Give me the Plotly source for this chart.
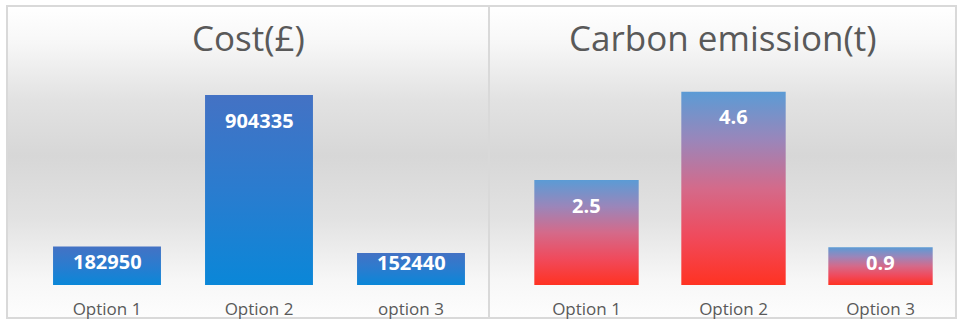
import base64
import plotly.graph_objects as go

# ---- data ----
cost_categories = ["Option 1", "Option 2", "option 3"]
cost_values = [182950, 904335, 152440]
carbon_categories = ["Option 1", "Option 2", "Option 3"]
carbon_values = [2.5, 4.6, 0.9]
cost_title = "Cost(£)"
carbon_title = "Carbon emission(t)"

# ---- layout constants ----
W, H = 961, 326
FONT = "Open Sans, Segoe UI, sans-serif"
GREY_TXT = "#595959"
Y_BOTTOM_PX, Y_TOP_PX = 285, 75
PLOT_H = Y_BOTTOM_PX - Y_TOP_PX
BAR_W = 0.71

panels = [
    dict(cats=cost_categories, vals=cost_values, title=cost_title, rmax=1_000_000,
         xdom=(31, 487), box=(7, 489), xa="x", ya="y",
         colorscale=[[0, "#0a87d8"], [0.5, "#2a7ccf"], [1, "#4472c4"]]),
    dict(cats=carbon_categories, vals=carbon_values, title=carbon_title, rmax=5,
         xdom=(513, 954), box=(489, 956), xa="x2", ya="y2",
         colorscale=[[0, "#ff3222"], [0.25, "#f04a5c"], [0.5, "#d46a8a"],
                     [0.75, "#9a86ba"], [1, "#5b9bd5"]]),
]

bg_svg = """<svg xmlns='http://www.w3.org/2000/svg' width='100' height='100' preserveAspectRatio='none'>
<defs><linearGradient id='g' x1='0' y1='0' x2='0' y2='1'>
<stop offset='0' stop-color='#ffffff'/>
<stop offset='0.12' stop-color='#f7f7f7'/>
<stop offset='0.30' stop-color='#e2e2e2'/>
<stop offset='0.48' stop-color='#d7d7d7'/>
<stop offset='0.68' stop-color='#e2e2e2'/>
<stop offset='0.88' stop-color='#f7f7f7'/>
<stop offset='1' stop-color='#fdfdfd'/>
</linearGradient></defs>
<rect width='100' height='100' fill='url(#g)'/></svg>"""
bg_uri = "data:image/svg+xml;base64," + base64.b64encode(bg_svg.encode()).decode()

fig = go.Figure()
annotations, shapes, images = [], [], []
layout_axes = {}

for k, p in enumerate(panels):
    xa, ya = p["xa"], p["ya"]
    for i, v in enumerate(p["vals"]):
        x0, x1 = i - BAR_W / 2, i + BAR_W / 2
        fig.add_trace(go.Scatter(
            x=[x0, x0, x1, x1, x0], y=[0, v, v, 0, 0],
            mode="lines", fill="toself", line=dict(width=0),
            fillgradient=dict(type="vertical", colorscale=p["colorscale"], start=0, stop=v),
            xaxis=xa, yaxis=ya, showlegend=False, hoverinfo="skip",
        ))
        h_px = v / p["rmax"] * PLOT_H
        off = min(25, h_px - 23)
        annotations.append(dict(
            x=i, y=v, xref=xa, yref=ya, text=f"{v:g}" if isinstance(v, float) else str(v),
            showarrow=False, yshift=-off, yanchor="middle", xanchor="center",
            font=dict(family=FONT, size=20, color="white", weight="bold"),
        ))
    suffix = "" if k == 0 else "2"
    layout_axes["xaxis" + suffix] = dict(
        domain=[p["xdom"][0] / W, p["xdom"][1] / W], range=[-0.5, 2.5],
        tickvals=[0, 1, 2], ticktext=p["cats"], showgrid=False, zeroline=False,
        showline=False, ticks="", ticklabelstandoff=12,
        tickfont=dict(family=FONT, size=17, color=GREY_TXT), fixedrange=True,
        anchor=ya,
    )
    layout_axes["yaxis" + suffix] = dict(
        domain=[1 - Y_BOTTOM_PX / H, 1 - Y_TOP_PX / H], range=[0, p["rmax"]],
        visible=False, fixedrange=True, anchor=xa,
    )
    bx0, bx1 = p["box"]
    images.append(dict(
        source=bg_uri, xref="paper", yref="paper", x=bx0 / W, y=1 - 6 / H,
        sizex=(bx1 - bx0) / W, sizey=312 / H, xanchor="left", yanchor="top",
        sizing="stretch", layer="below",
    ))
    annotations.append(dict(
        x=(bx0 + bx1) / 2 / W, y=1 - 37 / H, xanchor="center",
        xref="paper", yref="paper", text=p["title"], showarrow=False,
        yanchor="middle", font=dict(family=FONT, size=35, color=GREY_TXT),
    ))

for p in panels:
    bx0, bx1 = p["box"]
    shapes.append(dict(type="rect", xref="paper", yref="paper",
                       x0=bx0 / W, x1=bx1 / W, y0=8 / H, y1=1 - 6 / H,
                       line=dict(color="#d9d9d9", width=2), layer="below"))

fig.update_layout(
    width=W, height=H, margin=dict(l=0, r=0, t=0, b=0),
    paper_bgcolor="white", plot_bgcolor="rgba(0,0,0,0)",
    annotations=annotations, shapes=shapes, images=images,
    showlegend=False, **layout_axes,
)

fig.write_html("out.html", config={"displayModeBar": False},
               post_script="document.body.style.margin='0';")
